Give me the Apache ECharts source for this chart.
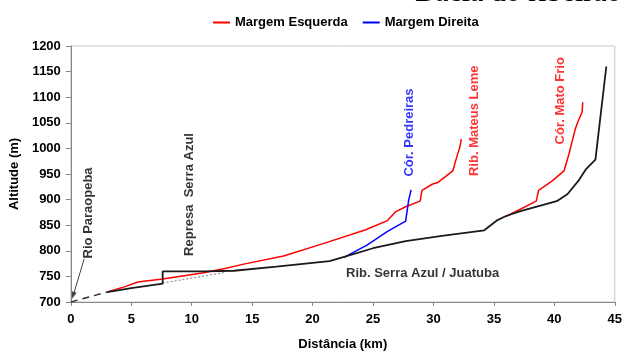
<!DOCTYPE html>
<html>
<head>
<meta charset="utf-8">
<script src="https://cdn.jsdelivr.net/npm/echarts@6/dist/echarts.min.js"></script>
<style>
html, body { margin: 0; padding: 0; background: #fff; }
#chart { width: 625px; height: 356px; }
</style>
</head>
<body>
<div id="chart"></div>
<script>
// perfil longitudinal: [distância (km), altitude (m)]
const serraAzul = [
	[3.0, 719.5], [5, 727], [7.6, 736], [7.6, 760], [11, 760], [13.5, 761], [17, 769],
	[21.4, 780], [22.75, 789], [25, 805], [27.7, 819], [30.7, 829], [34.2, 840],
	[35.3, 860], [36, 868], [37.2, 877.6], [40.2, 897], [41.1, 911], [42.0, 937],
	[42.6, 959], [43.4, 978], [44.3, 1160],
];
const confluencia = [[0, 700], [3.0, 719.5]];
const leitoAntigo = [[7.6, 737], [12.8, 758]];
const mateusLeme = [
	[3.08, 720], [4.5, 730], [5.54, 739], [7.6, 745], [11, 757], [12.66, 765], [14.3, 774],
	[17.6, 790], [21, 815], [24.4, 841], [26.2, 859], [26.85, 876], [27.7, 886],
	[28.9, 897], [29.05, 918], [29.9, 930], [30.4, 934], [31.6, 956], [31.9, 981],
	[32.2, 1004], [32.3, 1018],
];
const matoFrio = [
	[36.0, 867], [38.5, 897], [38.7, 918], [39.8, 936], [40.8, 956], [41.2, 988],
	[41.6, 1026], [41.75, 1039], [41.9, 1049], [42.3, 1071], [42.35, 1090],
];
const pedreiras = [
	[22.6, 787], [24.5, 811], [26.2, 838], [27.7, 858], [27.95, 899], [28.15, 919],
];
const xTicks = [0, 45, 5];
const yTicks = [700, 1200, 50];

const FONT = '"Liberation Sans", Arial, sans-serif';
const boldText = { fontFamily: FONT, fontWeight: 'bold', fontSize: 13, color: '#000' };

// rótulo vertical/horizontal ancorado em coordenadas do gráfico
function note(text, km, alt, color, rotate) {
	return {
		value: [km, alt],
		label: { show: true, formatter: text, color: color, rotate: rotate },
	};
}

const myChart = echarts.init(document.getElementById('chart'));
myChart.setOption({
	animation: false,
	textStyle: { fontFamily: FONT },
	graphic: [
		{
			type: 'text',
			x: 415,
			y: -22,
			style: {
				text: 'Bacia do ribeirão Serra Azul',
				font: '30px "Liberation Serif", "Times New Roman", serif',
				fill: '#000',
				verticalAlign: 'top',
			},
		},
	],
	legend: {
		data: ['Margem Esquerda', 'Margem Direita'],
		left: 213,
		top: 16,
		padding: 0,
		icon: 'rect',
		itemWidth: 17,
		itemHeight: 2,
		itemGap: 15,
		textStyle: boldText,
	},
	grid: {
		left: 66,
		right: 8,
		top: 46,
		bottom: 49,
		show: true,
		borderColor: '#c8c8c8',
		borderWidth: 1,
	},
	xAxis: {
		type: 'value',
		min: xTicks[0],
		max: xTicks[1],
		interval: xTicks[2],
		name: 'Distância (km)',
		nameLocation: 'middle',
		nameGap: 36,
		nameTextStyle: boldText,
		axisLine: { lineStyle: { color: '#868686', width: 1 } },
		axisTick: { length: 4, lineStyle: { color: '#868686' } },
		axisLabel: Object.assign({ margin: 11 }, boldText),
		splitLine: { show: false },
	},
	yAxis: {
		type: 'value',
		min: yTicks[0],
		max: yTicks[1],
		interval: yTicks[2],
		name: 'Altitude (m)',
		nameLocation: 'middle',
		nameGap: 46,
		nameTextStyle: boldText,
		axisLine: { show: true, lineStyle: { color: '#868686', width: 1 } },
		axisTick: { show: true, length: 5, lineStyle: { color: '#868686' } },
		axisLabel: Object.assign({ margin: 10, formatter: (v) => String(v) }, boldText),
		splitLine: { show: false },
	},
	series: [
		{
			name: 'confluencia',
			type: 'line',
			data: confluencia,
			showSymbol: false,
			silent: true,
			lineStyle: { color: '#333', width: 1.5, type: [7, 5] },
			markLine: {
				silent: true,
				symbol: ['none', 'triangle'],
				symbolSize: [5, 7],
				label: { show: false },
				lineStyle: { color: '#444', width: 1, type: 'solid' },
				data: [[{ coord: [1.1, 784] }, { coord: [0.2, 713] }]],
			},
		},
		{
			name: 'leito antigo',
			type: 'line',
			data: leitoAntigo,
			showSymbol: false,
			silent: true,
			lineStyle: { color: '#999', width: 1.3, type: [2, 2] },
		},
		{
			name: 'Margem Esquerda',
			type: 'line',
			data: mateusLeme,
			showSymbol: false,
			lineStyle: { color: '#ff0000', width: 1.5 },
			itemStyle: { color: '#ff0000' },
		},
		{
			name: 'Margem Esquerda',
			type: 'line',
			data: matoFrio,
			showSymbol: false,
			lineStyle: { color: '#ff0000', width: 1.5 },
			itemStyle: { color: '#ff0000' },
		},
		{
			name: 'Margem Direita',
			type: 'line',
			data: pedreiras,
			showSymbol: false,
			lineStyle: { color: '#0000ff', width: 1.5 },
			itemStyle: { color: '#0000ff' },
		},
		{
			name: 'Rib. Serra Azul / Juatuba',
			type: 'line',
			data: serraAzul,
			showSymbol: false,
			lineStyle: { color: '#1a1a1a', width: 1.8 },
			itemStyle: { color: '#1a1a1a' },
		},
		{
			name: 'rotulos',
			type: 'scatter',
			symbolSize: 0,
			silent: true,
			label: {
				show: true,
				position: 'inside',
				fontFamily: FONT,
				fontWeight: 'bold',
				fontSize: 13,
			},
			data: [
				note('Rio Paraopeba', 1.46, 874, '#000', 90),
				note('Represa  Serra Azul', 9.85, 910, '#000', 90),
				note('Cór. Pedreiras', 28.0, 1031, '#0000ff', 90),
				note('Rib. Mateus Leme', 33.35, 1054, '#ff0000', 90),
				note('Cór. Mato Frio', 40.5, 1093, '#ff0000', 90),
				note('Rib. Serra Azul / Juatuba', 29.1, 755.6, '#000', 0),
			],
		},
	],
});
</script>
</body>
</html>
